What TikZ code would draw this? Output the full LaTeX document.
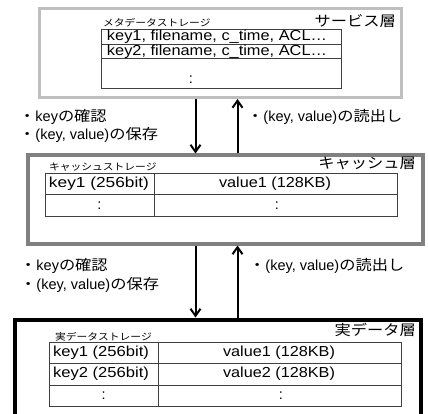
\documentclass[tikz,border=0pt]{standalone}
\usepackage{fontspec}
\setmainfont{Liberation Sans}
\newfontfamily\jp[FakeStretch=1.12]{Noto Sans CJK JP}
\usetikzlibrary{arrows.meta}
\newcommand\fitto[2]{\resizebox{#1}{\height}{#2}}
\begin{document}
\begin{tikzpicture}[x=1pt,y=-1pt,
  layerbox/.style={draw, rectangle, inner sep=0pt},
  svcbox/.style={layerbox, draw=black!25, line width=3pt},
  cachebox/.style={layerbox, draw=black!50, line width=4pt},
  realbox/.style={layerbox, draw=black, line width=4pt},
  tbl/.style={draw=black!75, line width=0.8pt},
  cell/.style={font=\fontsize{14.5}{16}\selectfont, inner sep=0pt},
  smalllbl/.style={font=\jp\fontsize{9.6}{11}\selectfont, inner sep=0pt, anchor=west},
  title/.style={font=\jp\fontsize{14.5}{16}\selectfont, inner sep=0pt, anchor=east},
  note/.style={font=\fontsize{14.5}{16}\selectfont, inner sep=0pt, anchor=west},
  arr/.style={line width=2pt, -{Straight Barb[length=7pt,width=10pt]}}]
\clip (0,0) rectangle (428,414);
\fill[white] (0,0) rectangle (428,414);
% layer boxes
\node[svcbox, minimum width=362pt, minimum height=89pt] (svc) at (220.5,53) {};
\node[cachebox, minimum width=394.5pt, minimum height=88pt] (cache) at (225.25,199.5) {};
\node[realbox, minimum width=406pt, minimum height=120pt] (real) at (217.5,379.5) {};
% titles
\node[title] (t1) at (396,21) {サービス層};
\node[title] (t2) at (416,163) {キャッシュ層};
\node[title] (t3) at (416,330) {実データ層};
% storage labels
\node[smalllbl] (s1) at (103,23) {メタデータストレージ};
\node[smalllbl] (s2) at (49,167) {キャッシュストレージ};
\node[smalllbl] (s3) at (55,337) {実データストレージ};
% top table
\draw[tbl] (101.5,29.5) rectangle (341,88);
\draw[tbl] (101.5,44) -- (341,44);
\draw[tbl] (101.5,58.5) -- (341,58.5);
\node[cell] (m1) at (217,37) {\fitto{220pt}{key1, filename, c\_time, ACL…}};
\node[cell] (m2) at (217,51.5) {\fitto{220pt}{key2, filename, c\_time, ACL…}};
\node[cell] (m3) at (191,80) {:};
% cache table
\draw[tbl] (45,173.5) rectangle (397,216.5);
\draw[tbl] (45,194.5) -- (397,194.5);
\draw[tbl] (154,173.5) -- (154,216.5);
\node[cell] (c1) at (99,184) {\fitto{100pt}{key1 (256bit)}};
\node[cell] (c2) at (275,184) {\fitto{112pt}{value1 (128KB)}};
\node[cell] (c3) at (99.5,206) {:};
\node[cell] (c4) at (277,206) {:};
% real table
\draw[tbl] (49.5,342.5) rectangle (401,406);
\draw[tbl] (49.5,363.5) -- (401,363.5);
\draw[tbl] (49.5,385) -- (401,385);
\draw[tbl] (158,342.5) -- (158,406);
\node[cell] (r1) at (101,353) {\fitto{96pt}{key1 (256bit)}};
\node[cell] (r2) at (279,353) {\fitto{112pt}{value1 (128KB)}};
\node[cell] (r3) at (101,374) {\fitto{96pt}{key2 (256bit)}};
\node[cell] (r4) at (279,374) {\fitto{112pt}{value2 (128KB)}};
\node[cell] (r5) at (103.75,395.5) {:};
\node[cell] (r6) at (281,395.5) {:};
% arrows
\coordinate (d1) at (195.5,0);
\coordinate (u1) at (237.5,0);
\draw[arr] (svc.south -| d1) -- (cache.north -| d1);
\draw[arr] (cache.north -| u1) -- (svc.south -| u1);
\draw[arr] (cache.south -| d1) -- (real.north -| d1);
\draw[arr] (real.north -| u1) -- (cache.south -| u1);
% notes
\node[note] (n1) at (19,117) {{\jp ・}key{\jp の確認}};
\node[note] (n2) at (19,135) {{\jp ・}(key, value){\jp の保存}};
\node[note] (n3) at (247,117) {{\jp ・}(key, value){\jp の読出し}};
\node[note] (n4) at (20,266) {{\jp ・}key{\jp の確認}};
\node[note] (n5) at (20,285) {{\jp ・}(key, value){\jp の保存}};
\node[note] (n6) at (249,266) {{\jp ・}(key, value){\jp の読出し}};
\end{tikzpicture}
\end{document}
